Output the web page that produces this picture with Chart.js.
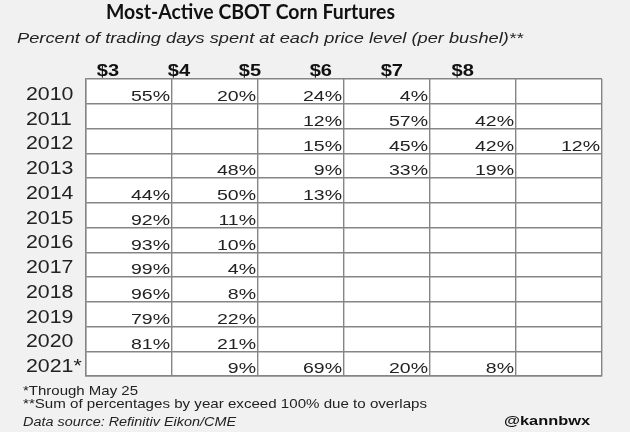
<!DOCTYPE html>
<html>
<head>
<meta charset="utf-8">
<script src="https://cdn.jsdelivr.net/npm/chart.js@4"></script>
<style>
  body { margin: 0; background: #f1f1f1; }
  canvas { display: block; }
</style>
</head>
<body>
<canvas id="tbl" width="630" height="432"></canvas>
<script>
// rows and columns of the table
const years = ['2010','2011','2012','2013','2014','2015','2016','2017','2018','2019','2020','2021*'];
const prices = ['$3','$4','$5','$6','$7','$8'];

// percent of trading days per price level, one array per column (null = empty cell)
const p3 = [55, null, null, null, 44, 92, 93, 99, 96, 79, 81, null];
const p4 = [20, null, null, 48, 50, 11, 10, 4, 8, 22, 21, 9];
const p5 = [24, 12, 15, 9, 13, null, null, null, null, null, null, 69];
const p6 = [4, 57, 45, 33, null, null, null, null, null, null, null, 20];
const p7 = [null, 42, 42, 19, null, null, null, null, null, null, null, 8];
const p8 = [null, null, 12, null, null, null, null, null, null, null, null, null];
const columns = [p3, p4, p5, p6, p7, p8];

const GRID = '#858585';
const INK = '#222';

// draw text squeezed/stretched horizontally
function txt(ctx, s, x, y, font, align, sx, color) {
  ctx.save();
  ctx.font = font;
  ctx.fillStyle = color || INK;
  ctx.textAlign = align;
  ctx.textBaseline = 'alphabetic';
  ctx.translate(x, y);
  ctx.scale(sx, 1);
  ctx.fillText(s, 0, 0);
  ctx.restore();
}
// left aligned text fitted to a width
function fit(ctx, s, x, y, font, w, color) {
  ctx.save();
  ctx.font = font;
  const m = ctx.measureText(s).width;
  ctx.restore();
  txt(ctx, s, x, y, font, 'left', w / m, color);
}

const tablePlugin = {
  id: 'tablePlugin',
  beforeDraw(chart) {
    const { ctx, chartArea: a } = chart;
    ctx.save();
    ctx.fillStyle = '#ffffff';
    ctx.fillRect(a.left, a.top, a.right - a.left, a.bottom - a.top);
    ctx.restore();
  },
  afterDraw(chart) {
    const ctx = chart.ctx;
    const xs = chart.scales.x, ys = chart.scales.y;
    const colW = xs.getPixelForValue(1) - xs.getPixelForValue(0);

    // titles
    fit(ctx, 'Most-Active CBOT Corn Furtures', 106, 18.5, 'bold 20px Lato', 289, '#111');
    fit(ctx, 'Percent of trading days spent at each price level (per bushel)**', 17, 42.7,
        'italic 15.5px "Liberation Sans"', 506, INK);

    // column headers
    prices.forEach((p, i) => {
      txt(ctx, p, xs.left + 22 + i * colW * 0.825, 75.5, 'bold 17px "Liberation Sans"', 'center', 1.18, '#111');
    });

    // row labels
    years.forEach((y, i) => {
      txt(ctx, y, 26, ys.getPixelForValue(i) + 8.5, '17.5px "Liberation Sans"', 'left', 1.22, INK);
    });

    // cell values
    chart.data.datasets.forEach((ds, di) => {
      const meta = chart.getDatasetMeta(di);
      meta.data.forEach((el, j) => {
        const v = ds.data[j].v;
        txt(ctx, v + '%', el.x + colW / 2 - 2, el.y + 9.7, '15px "Liberation Sans"', 'right', 1.3, INK);
      });
    });

    // notes
    fit(ctx, '*Through May 25', 23, 395, '13px "Liberation Sans"', 115, INK);
    fit(ctx, '**Sum of percentages by year exceed 100% due to overlaps', 23, 407.5,
        '13px "Liberation Sans"', 404, INK);
    fit(ctx, 'Data source: Refinitiv Eikon/CME', 23, 426, 'italic 12px "Liberation Sans"', 213, INK);
    fit(ctx, '@kannbwx', 504, 425, 'bold 13.5px "Liberation Sans"', 86, '#111');
  }
};

const datasets = columns.map((col, ci) => ({
  label: prices[ci],
  data: col.map((v, yi) => v === null ? null : { x: prices[ci], y: years[yi], v: v })
           .filter(d => d !== null),
  pointRadius: 0,
  pointHoverRadius: 0
}));

new Chart(document.getElementById('tbl'), {
  type: 'scatter',
  data: { datasets: datasets },
  options: {
    responsive: false,
    animation: false,
    events: [],
    layout: { padding: { left: 86, top: 79, right: 28, bottom: 56 } },
    plugins: {
      legend: { display: false },
      title: { display: false },
      tooltip: { enabled: false }
    },
    scales: {
      x: {
        type: 'category',
        labels: prices,
        offset: true,
        grid: { offset: true, color: GRID, lineWidth: 1.4, drawTicks: false },
        border: { color: GRID, width: 1.4 },
        ticks: { display: false }
      },
      y: {
        type: 'category',
        labels: years,
        offset: true,
        grid: { offset: true, color: GRID, lineWidth: 1.4, drawTicks: false },
        border: { color: GRID, width: 1.4 },
        ticks: { display: false }
      }
    }
  },
  plugins: [tablePlugin]
});
</script>
</body>
</html>
